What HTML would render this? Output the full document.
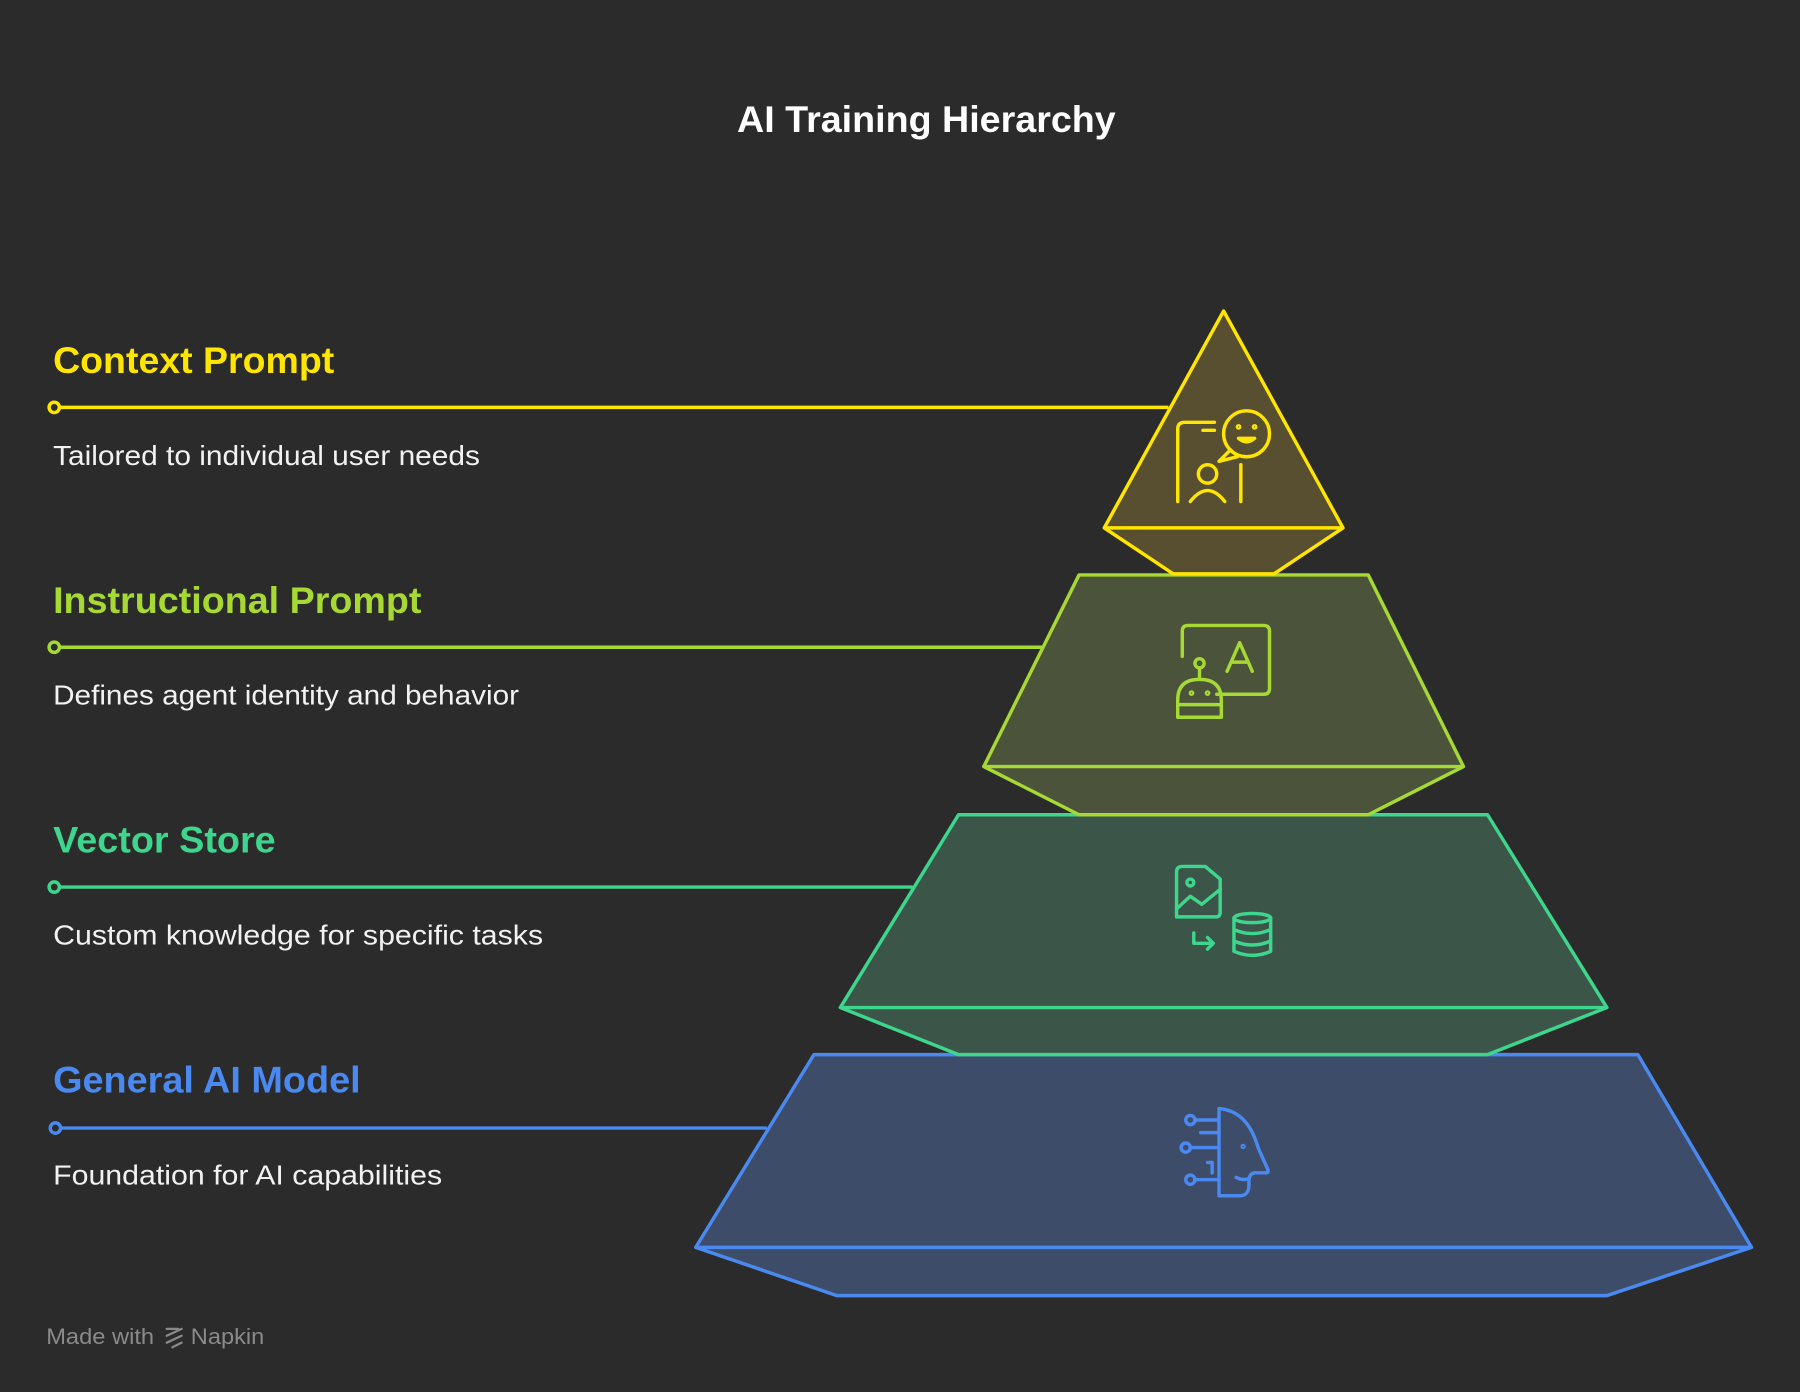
<!DOCTYPE html>
<html><head><meta charset="utf-8"><style>
html,body{margin:0;padding:0;background:#2b2b2b;}
svg{display:block;}
text{font-family:"Liberation Sans",Arial,sans-serif;}
</style></head><body>
<svg width="1800" height="1392" viewBox="0 0 1568 1213" xmlns="http://www.w3.org/2000/svg">
<rect width="1568" height="1213" fill="#2b2b2b"/>
<text x="807" y="115" text-anchor="middle" font-size="32" font-weight="bold" fill="#ffffff" textLength="330" lengthAdjust="spacingAndGlyphs">AI Training Hierarchy</text>

<!-- Layer 4 -->
<polygon points="709,919 1427,919 1526,1087 1400,1129 729,1129 606,1087" fill="#3d4d69" stroke="#4a8af0" stroke-width="3" stroke-linejoin="round"/>
<line x1="606" y1="1087" x2="1526" y2="1087" stroke="#4a8af0" stroke-width="3"/>
<!-- Layer 3 -->
<polygon points="835,710 1296,710 1400,878 1296,919 835,919 732,878" fill="#3b5649" stroke="#3dd68c" stroke-width="3" stroke-linejoin="round"/>
<line x1="732" y1="878" x2="1400" y2="878" stroke="#3dd68c" stroke-width="3"/>
<!-- Layer 2 -->
<polygon points="940,501 1192,501 1275,668 1192,710 940,710 857,668" fill="#4b533b" stroke="#a6d934" stroke-width="3" stroke-linejoin="round"/>
<line x1="857" y1="668" x2="1275" y2="668" stroke="#a6d934" stroke-width="3"/>
<!-- Layer 1 -->
<polygon points="1066,271 1170,460 1110,500 1022,500 962,460" fill="#584f30" stroke="#ffe500" stroke-width="3" stroke-linejoin="round"/>
<line x1="962" y1="460" x2="1170" y2="460" stroke="#ffe500" stroke-width="3"/>

<!-- connector lines -->
<g stroke-width="3" fill="#2b2b2b">
<line x1="51" y1="355" x2="1018" y2="355" stroke="#ffe500"/><circle cx="47" cy="355" r="4.5" stroke="#ffe500"/>
<line x1="51" y1="564" x2="908" y2="564" stroke="#a6d934"/><circle cx="47" cy="564" r="4.5" stroke="#a6d934"/>
<line x1="51" y1="773" x2="795" y2="773" stroke="#3dd68c"/><circle cx="47" cy="773" r="4.5" stroke="#3dd68c"/>
<line x1="52" y1="983" x2="668" y2="983" stroke="#4a8af0"/><circle cx="48" cy="983" r="4.5" stroke="#4a8af0"/>
</g>

<!-- labels -->
<text x="46" y="325" font-size="32" font-weight="bold" fill="#ffe500" textLength="245" lengthAdjust="spacingAndGlyphs">Context Prompt</text>
<text x="46" y="405" font-size="24" fill="#f2f2f2" textLength="372" lengthAdjust="spacingAndGlyphs">Tailored to individual user needs</text>
<text x="46" y="534" font-size="32" font-weight="bold" fill="#a6d934" textLength="321" lengthAdjust="spacingAndGlyphs">Instructional Prompt</text>
<text x="46" y="614" font-size="24" fill="#f2f2f2" textLength="406" lengthAdjust="spacingAndGlyphs">Defines agent identity and behavior</text>
<text x="46" y="743" font-size="32" font-weight="bold" fill="#3dd68c" textLength="194" lengthAdjust="spacingAndGlyphs">Vector Store</text>
<text x="46" y="823" font-size="24" fill="#f2f2f2" textLength="427" lengthAdjust="spacingAndGlyphs">Custom knowledge for specific tasks</text>
<text x="46" y="952" font-size="32" font-weight="bold" fill="#4a8af0" textLength="268" lengthAdjust="spacingAndGlyphs">General AI Model</text>
<text x="46" y="1032" font-size="24" fill="#f2f2f2" textLength="339" lengthAdjust="spacingAndGlyphs">Foundation for AI capabilities</text>

<!-- icon 1 -->
<g fill="none" stroke="#ffe500" stroke-width="3" stroke-linecap="round" stroke-linejoin="round">
<path d="M1026,437 V374 Q1026,368 1032,368 H1058"/>
<path d="M1048,375 H1058"/>
<circle cx="1086" cy="378" r="20"/>
<path d="M1072,392 L1062,402 L1078,398"/>
<circle cx="1079" cy="372" r="1" /><circle cx="1093" cy="372" r="1"/>
<path d="M1079,382 Q1086,388 1093,382 Z"/>
<circle cx="1052" cy="413" r="8"/>
<path d="M1037,437 Q1052,418 1067,437"/>
<path d="M1081,405 V437"/>
</g>
<!-- icon 2 -->
<g fill="none" stroke="#a6d934" stroke-width="3" stroke-linecap="round" stroke-linejoin="round">
<path d="M1030,572 V550 Q1030,545 1035,545 H1101 Q1106,545 1106,550 V600 Q1106,605 1101,605 H1060"/>
<path d="M1069,585 L1080,560 L1091,585 M1073,577 H1087"/>
<circle cx="1045" cy="578" r="4"/>
<path d="M1045,582 V590"/>
<path d="M1026,625 V610 Q1026,592 1045,592 Q1064,592 1064,610 V625 Z M1026,614 H1064"/>
<circle cx="1038" cy="604" r="1"/><circle cx="1052" cy="604" r="1"/>
</g>
<!-- icon 3 -->
<g fill="none" stroke="#3dd68c" stroke-width="3" stroke-linecap="round" stroke-linejoin="round">
<path d="M1025,799 V760 Q1025,755 1030,755 H1050 L1063,766 V795 Q1063,799 1059,799 Z"/>
<circle cx="1037" cy="769" r="3"/>
<path d="M1025,792 L1037,781 L1047,788 L1063,775"/>
<path d="M1040,813 V822 H1057 M1052,817 L1057,822 L1052,827"/>
<ellipse cx="1091" cy="800" rx="16" ry="4"/>
<path d="M1075,800 V829 Q1091,836 1107,829 V800 M1075,810 Q1091,817 1107,810 M1075,820 Q1091,827 1107,820"/>
</g>
<!-- icon 4 -->
<g fill="none" stroke="#4a8af0" stroke-width="3" stroke-linecap="round" stroke-linejoin="round">
<path d="M1062,966 V1042 H1080 Q1089,1042 1088,1030 Q1088,1022 1094,1022 H1103 Q1106,1022 1104,1018 L1096,1000 Q1087,968 1062,966"/>
<circle cx="1083" cy="999" r="0.8"/>
<path d="M1077,1026 Q1083,1029 1088,1027"/>
<circle cx="1037" cy="976" r="4"/><path d="M1041,976 H1062"/>
<path d="M1046,987 H1062"/>
<circle cx="1033" cy="1000" r="4"/><path d="M1037,1000 H1062"/>
<path d="M1052,1013 H1056 V1022"/>
<circle cx="1037" cy="1028" r="4"/><path d="M1041,1028 H1062"/>
</g>

<!-- footer -->
<text x="40" y="1171" font-size="19" fill="#8a8a8a" textLength="94" lengthAdjust="spacingAndGlyphs">Made with</text>
<g fill="none" stroke="#8a8a8a" stroke-width="2" stroke-linecap="round"><path d="M145,1158 L155,1158 M145,1164 L158,1158 M145,1170 L158,1164 M150,1174 L158,1170"/></g>
<text x="166" y="1171" font-size="19" fill="#8a8a8a" textLength="64" lengthAdjust="spacingAndGlyphs">Napkin</text>
</svg>
</body></html>
